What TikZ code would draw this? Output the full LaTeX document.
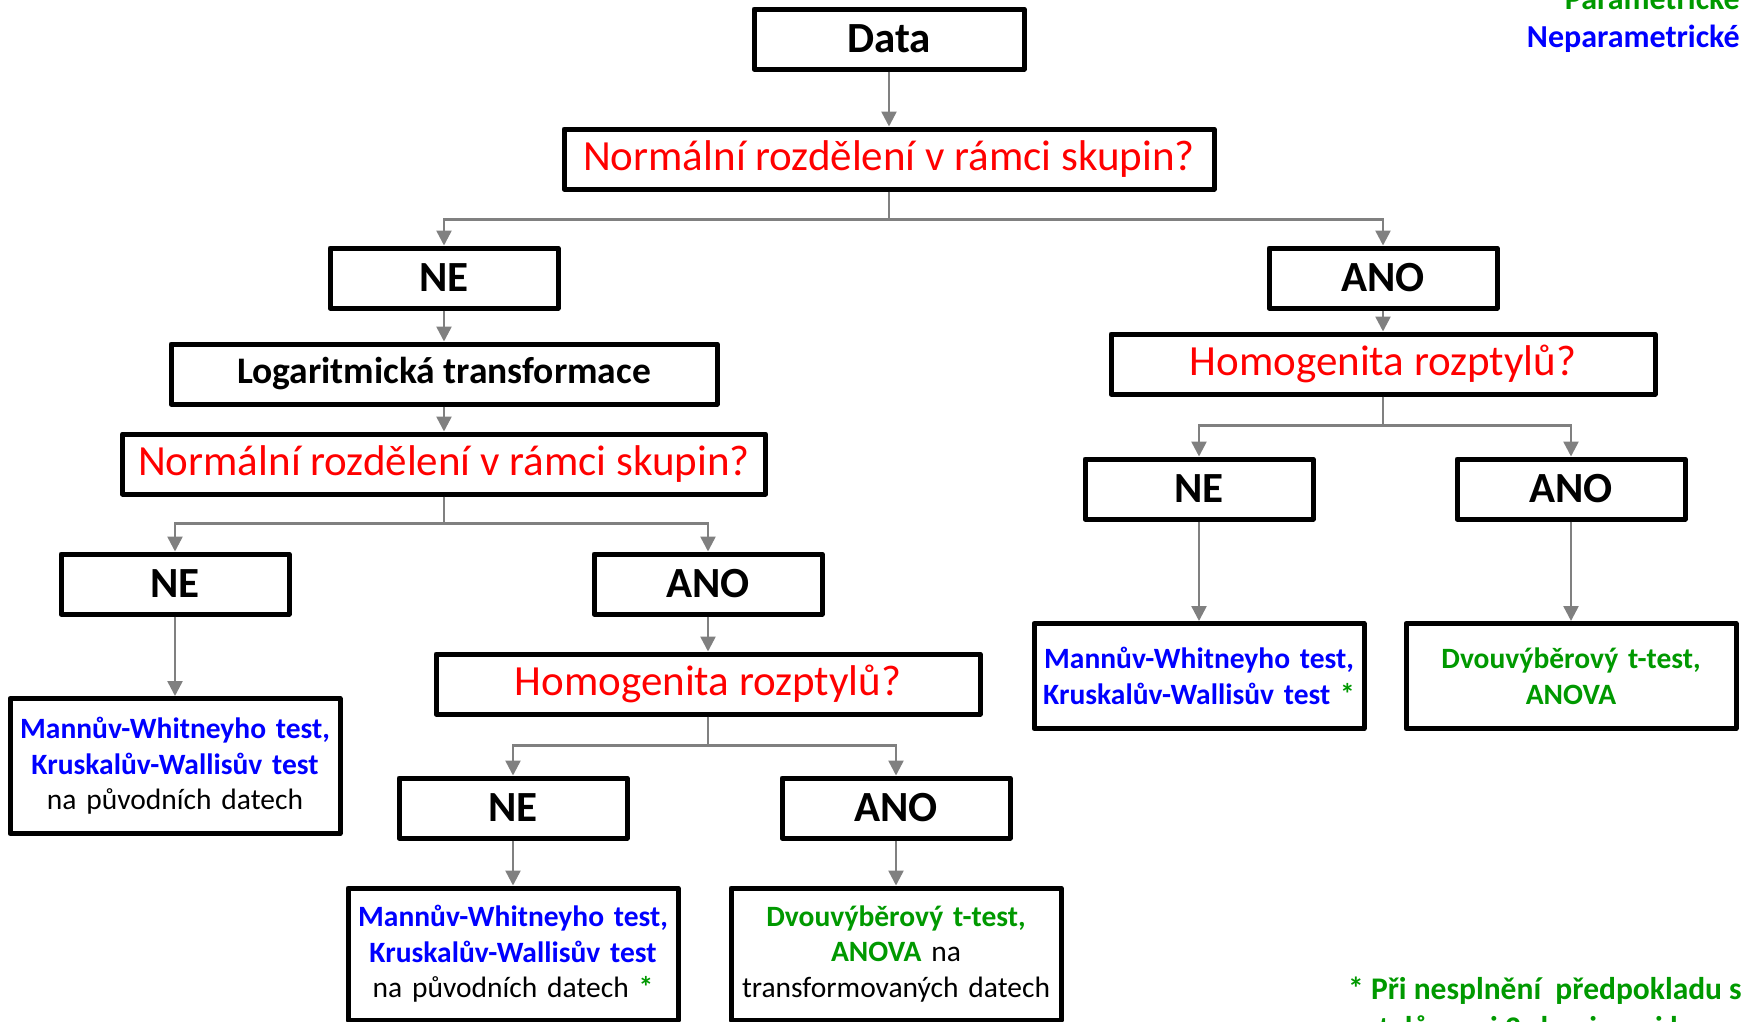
\documentclass[tikz,border=0pt]{standalone}
\usepackage{fontspec}
\setmainfont{Carlito}
\usepackage{tikz}
\usetikzlibrary{positioning,arrows.meta}

\definecolor{qred}{RGB}{255,0,0}
\definecolor{nblue}{RGB}{0,0,255}
\definecolor{pgreen}{RGB}{0,153,0}
\definecolor{linkgray}{RGB}{128,128,128}

\newcommand{\neptext}[1]{\textcolor{nblue}{\bfseries #1}}
\newcommand{\partext}[1]{\textcolor{pgreen}{\bfseries #1}}

\begin{document}
\begin{tikzpicture}[x=1pt,y=-1pt,on grid,node distance=120pt,
  box/.style={draw,line width=5pt,line join=round,fill=white,inner sep=0pt,
    minimum width=228pt,minimum height=60pt,font=\fontsize{43}{50}\selectfont\bfseries},
  ask/.style={box,font=\fontsize{43}{50}\selectfont,text=qred},
  result/.style={draw,line width=5pt,line join=round,fill=white,inner sep=0pt,
    text width=330pt,align=center,font=\fontsize{29.5}{35.5}\selectfont},
  legend/.style={inner sep=0pt,font=\fontsize{32}{38}\selectfont\bfseries},
  link/.style={draw=linkgray,line width=2.5pt,-{Triangle[width=15pt,length=15pt]}}]
\useasboundingbox (0,0) rectangle (1742,1021);

\node[box,minimum width=270pt,minimum height=60pt] (data) at (889,39) {Data};
\node[ask,minimum width=650pt,below=120pt of data] (norm1) {Normální rozdělení v rámci skupin?};

% left branch
\node[box,below left=119pt and 445pt of norm1] (ne1) {NE};
\node[box,minimum width=546pt,font=\fontsize{37.5}{44}\selectfont\bfseries,below=96pt of ne1] (log) {Logaritmická transformace};
\node[ask,minimum width=643pt,below=90pt of log] (norm2) {Normální rozdělení v rámci skupin?};
\node[box,below left=120pt and 269pt of norm2] (ne2) {NE};
\node[box,below right=120pt and 264pt of norm2] (ano2) {ANO};
\node[result,minimum height=135pt,below=182pt of ne2] (res2n)
  {\neptext{Mannův-Whitneyho test,}\\\neptext{Kruskalův-Wallisův test}\\na původních datech};
\node[ask,minimum width=544pt,below=100pt of ano2] (homo1) {Homogenita rozptylů?};
\node[box,below left=124pt and 195pt of homo1] (ne3) {NE};
\node[box,below right=124pt and 188pt of homo1] (ano3) {ANO};
\node[result,minimum height=132pt,below=146pt of ne3] (res3n)
  {\neptext{Mannův-Whitneyho test,}\\\neptext{Kruskalův-Wallisův test}\\na původních datech \partext{*}};
\node[result,minimum height=132pt,below=146pt of ano3] (res3a)
  {\partext{Dvouvýběrový t-test,}\\\partext{ANOVA} na\\transformovaných datech};

% right branch
\node[box,below right=119pt and 494pt of norm1] (ano1) {ANO};
\node[ask,minimum width=544pt,below=86pt of ano1] (homo2) {Homogenita rozptylů?};
\node[box,below left=125pt and 184pt of homo2] (ne4) {NE};
\node[box,below right=125pt and 188pt of homo2] (ano4) {ANO};
\node[result,minimum height=105pt,below=187pt of ne4] (res4n)
  {\neptext{Mannův-Whitneyho test,}\\\neptext{Kruskalův-Wallisův test} \partext{*}};
\node[result,minimum height=105pt,below=187pt of ano4] (res4a)
  {\partext{Dvouvýběrový t-test,}\\\partext{ANOVA}};

% legend and note
\node[legend,anchor=base east,text=pgreen] (para) at (1740,9) {Parametrické};
\node[legend,anchor=base east,text=nblue] (nepara) at (1740,47) {Neparametrické};
\node[legend,font=\fontsize{31.5}{38}\selectfont\bfseries,anchor=base west,text=pgreen] (note) at (1348,999) {* Při nesplnění~~předpokladu shody};
\node[legend,font=\fontsize{31.5}{38}\selectfont\bfseries,anchor=base west,text=pgreen] (note2) at (1322,1038) {rozptylů mezi 2 skupinami lze};

\draw[link] (data) -- (norm1);
\draw[link] (norm1.south) -- ++(0,-28pt) -| (ne1.north);
\draw[link] (norm1.south) -- ++(0,-28pt) -| (ano1.north);
\draw[link] (ne1) -- (log);
\draw[link] (log) -- (norm2);
\draw[link] (norm2.south) -- ++(0,-27pt) -| (ne2.north);
\draw[link] (norm2.south) -- ++(0,-27pt) -| (ano2.north);
\draw[link] (ne2) -- (res2n);
\draw[link] (ano2) -- (homo1);
\draw[link] (homo1.south) -- ++(0,-29pt) -| (ne3.north);
\draw[link] (homo1.south) -- ++(0,-29pt) -| (ano3.north);
\draw[link] (ne3) -- (res3n);
\draw[link] (ano3) -- (res3a);
\draw[link] (ano1) -- (homo2);
\draw[link] (homo2.south) -- ++(0,-29pt) -| (ne4.north);
\draw[link] (homo2.south) -- ++(0,-29pt) -| (ano4.north);
\draw[link] (ne4) -- (res4n);
\draw[link] (ano4) -- (res4a);
\end{tikzpicture}
\end{document}
